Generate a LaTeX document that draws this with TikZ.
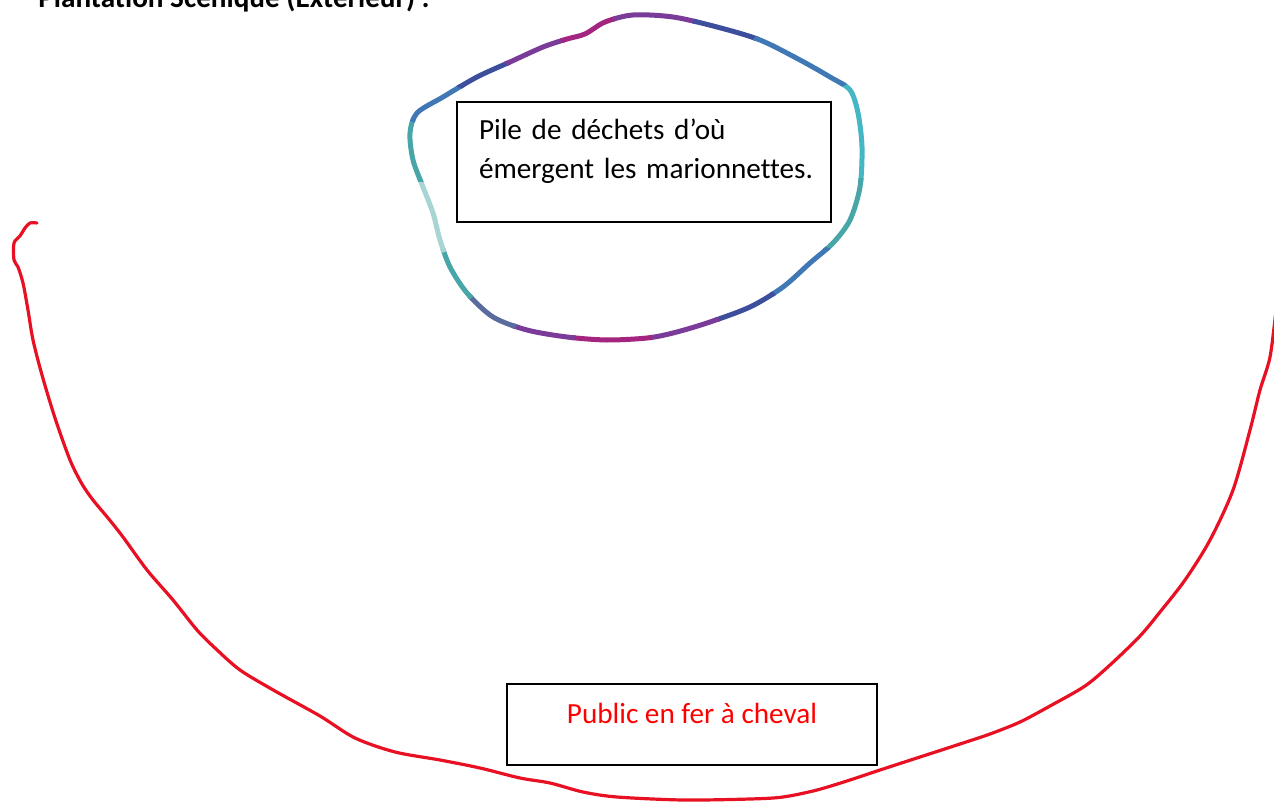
\documentclass[tikz,border=0pt]{standalone}
\usepackage{fontspec}
\setmainfont{Carlito}[Ligatures=NoCommon]
\usepackage{tikz}
\definecolor{curvered}{RGB}{232,17,35}
\definecolor{gPurple}{HTML}{7B3B98}
\definecolor{gMagenta}{HTML}{A3257F}
\definecolor{gNavy}{HTML}{3C4E9C}
\definecolor{gBlue}{HTML}{3F78B4}
\definecolor{gTeal}{HTML}{48A6A8}
\definecolor{gCyan}{HTML}{45B6C4}
\definecolor{gPale}{HTML}{A8D4D4}
\definecolor{gSlate}{HTML}{5A6C9E}

\begin{document}
\begin{tikzpicture}[x=0.5pt,y=-0.5pt,
  boxnode/.style={draw,line width=1pt,anchor=north west,inner ysep=0pt,font=\fontsize{14.6pt}{19.5pt}\selectfont},
  pileline/.style={line width=2.5pt,line cap=round,line join=round},
  redline/.style={curvered,line width=1.6pt,line cap=round,line join=round}]

\useasboundingbox (0,0) rectangle (1274,802);

\node[anchor=base west,inner sep=0pt,font=\bfseries\fontsize{14.6pt}{19.5pt}\selectfont] (title) at (38,8) {Plantation Scénique (Extérieur) :};

\foreach \a/\b/\col in {-25/0/gCyan, 0/20/gTeal, 20/40/gBlue, 40/60/gNavy, 60/85/gPurple, 85/112/gMagenta, 112/130/gPurple, 130/145/gSlate, 145/160/gTeal, 160/180/gPale, 180/195/gTeal, 195/208/gBlue, 208/222/gNavy, 222/242/gPurple, 242/262/gMagenta, 262/290/gPurple, 290/310/gNavy, 310/335/gBlue}{
  \begin{scope}
    \clip (637,180) -- +(\a-0.5:500) -- +(\b+0.5:500) -- cycle;
    \draw[pileline,\col] plot[smooth cycle] coordinates {(633,15) (673,17) (717,27) (760,40) (800,60) (830,77) (850,90) (858,113) (862,147) (860,187) (850,220) (833,243) (810,263) (783,287) (750,307) (707,323) (673,333) (647,338) (607,340) (567,337) (527,330) (493,317) (467,293) (450,267) (440,240) (433,213) (423,187) (413,160) (410,133) (417,113) (443,97) (477,77) (510,62) (543,47) (567,39) (585,34) (605,22)};
  \end{scope}
}

\draw[redline] plot[smooth,tension=0.5] coordinates {(37,223) (30,223) (25,228) (20,236) (14,243) (14,260) (18,267) (23,283) (28,310) (33,340) (42,375) (55,418) (70,460) (82,484) (93,500) (108,518) (123,537) (147,570) (173,600) (197,630) (215,648) (240,670) (275,691) (320,716) (355,738) (395,752) (440,760) (480,768) (520,778) (550,783) (583,792) (617,797) (683,800) (750,799) (783,797) (817,790) (850,780) (880,770) (920,757) (960,744) (990,734) (1020,722) (1050,706) (1085,686) (1110,665) (1140,636) (1160,612) (1185,580) (1210,540) (1233,490) (1250,430) (1260,390) (1270,357) (1276,310)};

\node[boxnode,inner xsep=11pt,text width=165pt,text height=19pt,text depth=41pt,align=left] (pile) at (456,101) {\mbox{Pile de déchets d’où}\\\mbox{émergent les marionnettes.}};
\node[boxnode,inner xsep=0pt,minimum width=185pt,text height=19.5pt,text depth=21pt,text=red] (public) at (506,683) {Public en fer à cheval};

\end{tikzpicture}
\end{document}
